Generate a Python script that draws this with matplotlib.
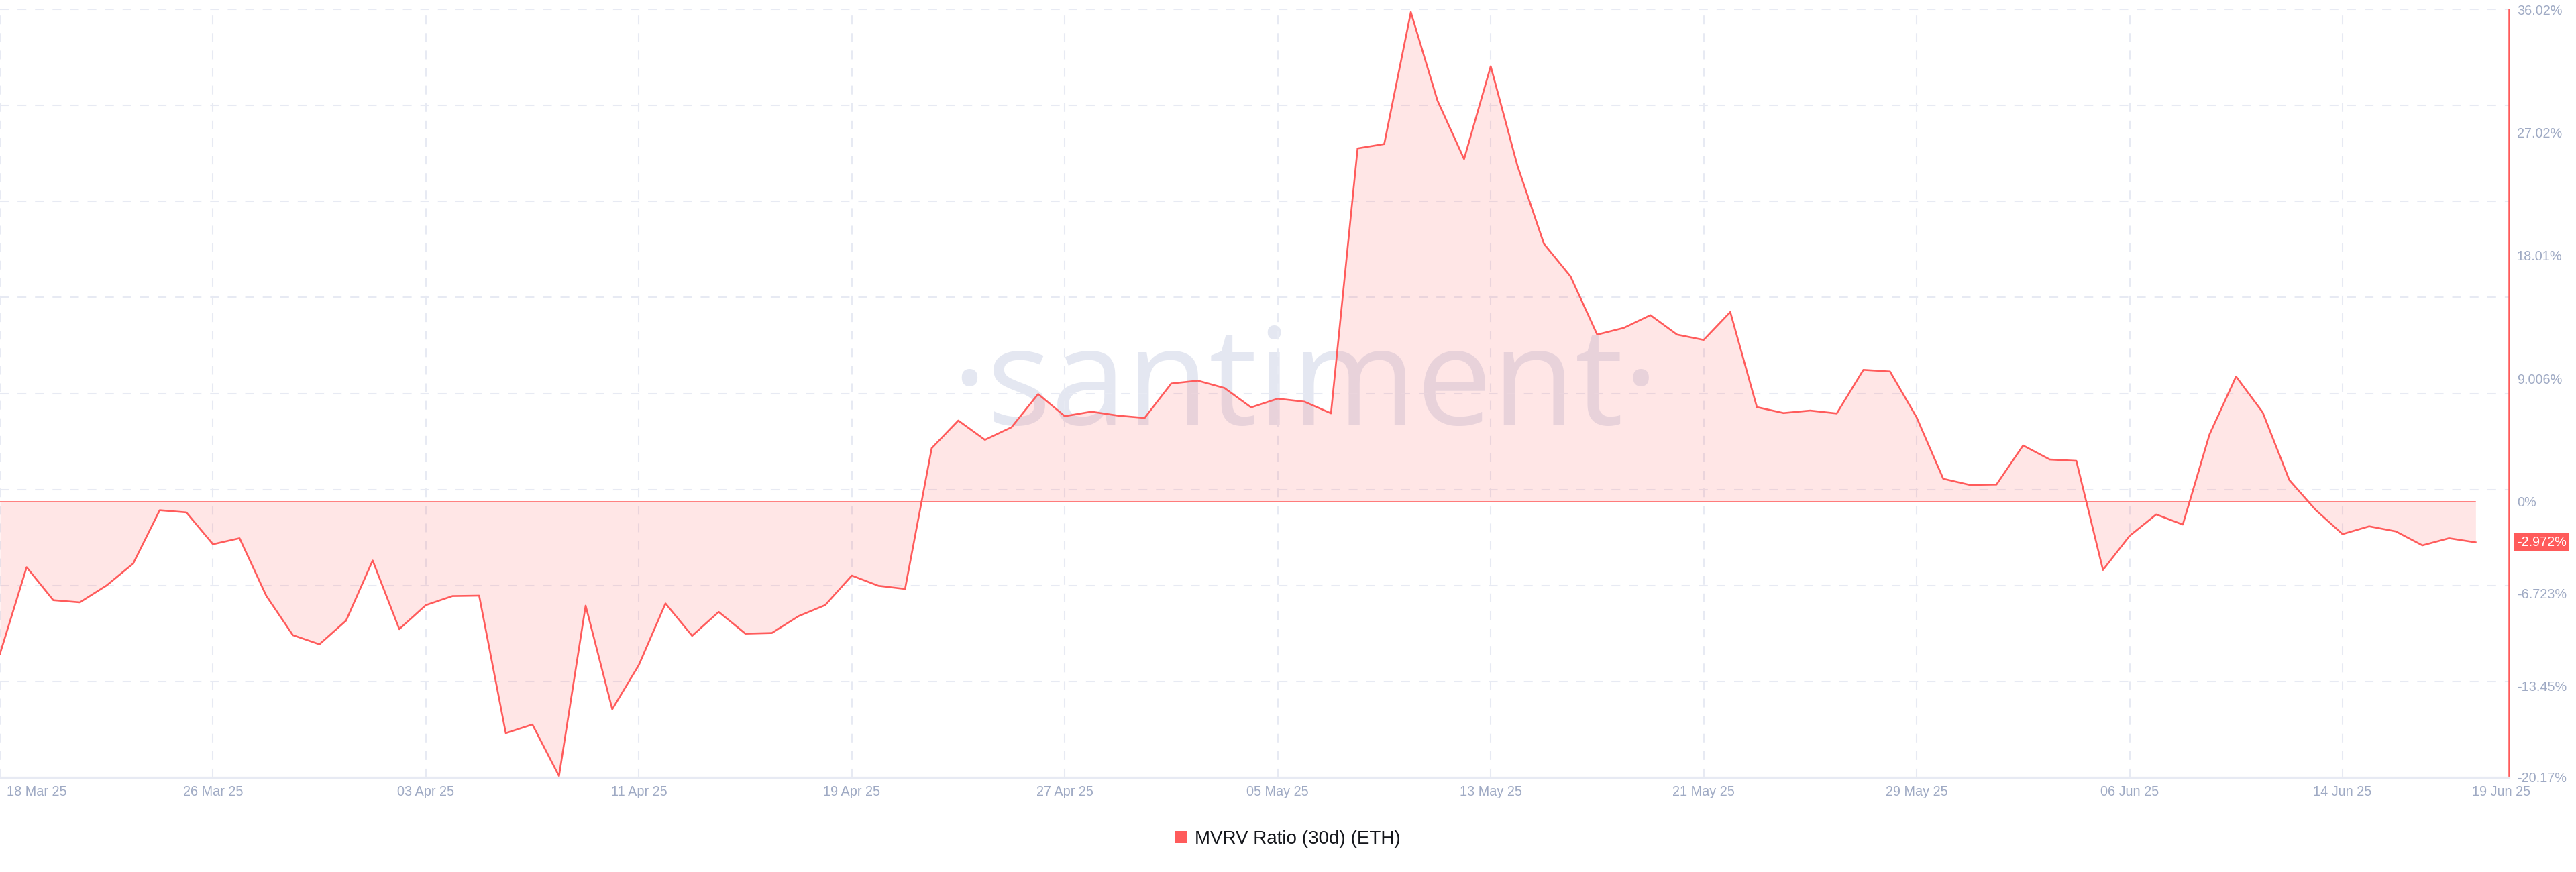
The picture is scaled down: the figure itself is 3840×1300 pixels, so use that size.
import numpy as np
import pandas as pd
import matplotlib
matplotlib.use("Agg")
import matplotlib.pyplot as plt
import matplotlib.dates as mdates
import matplotlib.transforms as mtransforms
from matplotlib.patches import Patch

plt.rcParams['font.family'] = ['Liberation Sans', 'DejaVu Sans']
plt.rcParams['lines.scale_dashes'] = False

# ---------------- data ----------------
dates = pd.date_range('2025-03-18', '2025-06-19', freq='D')
mvrv = [
    -11.12, -4.79, -7.20, -7.36, -6.13, -4.53, -0.62, -0.78, -3.11, -2.67,
    -6.87, -9.76, -10.43, -8.70, -4.30, -9.32, -7.56, -6.90, -6.87, -16.93,
    -16.30, -20.07, -7.60, -15.18, -11.94, -7.44, -9.81, -8.06, -9.65, -9.60,
    -8.37, -7.56, -5.40, -6.15, -6.38, 3.92, 5.94, 4.53, 5.45, 7.88,
    6.26, 6.59, 6.30, 6.13, 8.65, 8.86, 8.32, 6.90, 7.54, 7.32,
    6.47, 25.85, 26.17, 35.82, 29.35, 25.07, 31.86, 24.61, 18.87, 16.48,
    12.23, 12.72, 13.65, 12.23, 11.84, 13.88, 6.92, 6.49, 6.67, 6.46,
    9.65, 9.53, 6.17, 1.68, 1.23, 1.26, 4.12, 3.09, 2.99, -4.99,
    -2.50, -0.93, -1.67, 4.91, 9.16, 6.54, 1.59, -0.62, -2.37, -1.80,
    -2.17, -3.19, -2.67, -2.972,
]
x_tick_dates = pd.to_datetime([
    '2025-03-18', '2025-03-26', '2025-04-03', '2025-04-11', '2025-04-19',
    '2025-04-27', '2025-05-05', '2025-05-13', '2025-05-21', '2025-05-29',
    '2025-06-06', '2025-06-14', '2025-06-19',
])
x_tick_labels = [
    '18 Mar 25', '26 Mar 25', '03 Apr 25', '11 Apr 25', '19 Apr 25',
    '27 Apr 25', '05 May 25', '13 May 25', '21 May 25', '29 May 25',
    '06 Jun 25', '14 Jun 25', '19 Jun 25',
]
y_tick_values = [36.02, 27.015, 18.01, 9.006, 0.0, -6.723, -13.45, -20.17]
y_tick_labels = ['36.02%', '27.02%', '18.01%', '9.006%', '0%', '-6.723%', '-13.45%', '-20.17%']
current_label = '-2.972%'
series_name = 'MVRV Ratio (30d) (ETH)'

# ---------------- style ----------------
RED = '#ff5b5b'
GRID = '#e7eaf3'
AXIS_TXT = '#9faac4'
W, H = 3840, 1300

fig = plt.figure(figsize=(W / 100, H / 100), dpi=100)
fig.patch.set_facecolor('white')
ax = fig.add_axes([0, (H - 1159) / H, 3740 / W, (1159 - 14) / H])
ax.set_facecolor('white')

x = mdates.date2num(dates)
ymin, ymax = min(y_tick_values), max(y_tick_values)
ax.set_ylim(ymin, ymax)
ax.set_xlim(x[0], x[0] + 94.25)

# watermark
ax.text(0.5203, 0.4594, '\u00b7santiment\u00b7', transform=ax.transAxes,
        ha='center', va='baseline', fontsize=145, color='#e4e7f1',
        family=['Open Sans', 'DejaVu Sans'], zorder=0.3)

# grid
dash = (9.4, 9.4)
for v in np.linspace(ymin, ymax, 9)[1:]:
    ax.axhline(v, color=GRID, lw=1.45, dashes=dash, zorder=0.6)
for d in x_tick_dates[:-1]:
    ax.axvline(mdates.date2num(d), color=GRID, lw=1.45, dashes=dash, zorder=0.6)

# series
ax.fill_between(x, mvrv, 0, color=RED, alpha=0.15, lw=0, zorder=1)
ax.plot([x[0], x[-1]], [0, 0], color=RED, lw=1.1, zorder=2)
ax.plot(x, mvrv, color=RED, lw=1.9, zorder=3)

# spines
for s in ['top', 'left']:
    ax.spines[s].set_visible(False)
ax.spines['bottom'].set_color(GRID)
ax.spines['bottom'].set_linewidth(2.3)
ax.spines['right'].set_color(RED)
ax.spines['right'].set_linewidth(1.8)

# y ticks on right
ax.yaxis.tick_right()
ax.set_yticks(y_tick_values)
ax.set_yticklabels(y_tick_labels)
ax.tick_params(axis='y', length=0, pad=8.5, labelsize=14.3, labelcolor=AXIS_TXT)

# x labels as text
ax.set_xticks([])
blend = mtransforms.blended_transform_factory(ax.transData, ax.transAxes)
for i, (d, lab) in enumerate(zip(x_tick_dates, x_tick_labels)):
    dx, ha = 0, 'center'
    if i == 0:
        dx, ha = 10, 'left'
    elif i == len(x_tick_labels) - 1:
        dx, ha = -5, 'left'
    tr = mtransforms.offset_copy(blend, fig=fig, x=dx, y=-21, units='dots')
    ax.text(mdates.date2num(d), 0, lab, transform=tr, ha=ha, va='center',
            fontsize=14.3, color=AXIS_TXT, clip_on=False)

# current value tag
blend_y = mtransforms.blended_transform_factory(ax.transAxes, ax.transData)
tr = mtransforms.offset_copy(blend_y, fig=fig, x=12, y=0, units='dots')
ax.text(1.0, mvrv[-1], current_label, transform=tr, ha='left', va='center',
        fontsize=14.3, color='white', clip_on=False, zorder=5,
        bbox=dict(boxstyle='square,pad=0.22', fc=RED, ec='none'))

# legend
fig.legend(handles=[Patch(facecolor=RED, edgecolor='none', label=series_name)],
           loc='center', bbox_to_anchor=(0.5, 1 - 1251 / H), frameon=False,
           fontsize=20, handlelength=0.62, handleheight=0.62, handletextpad=0.4,
           labelcolor='#15171c')

fig.savefig('out.png', dpi=100)
